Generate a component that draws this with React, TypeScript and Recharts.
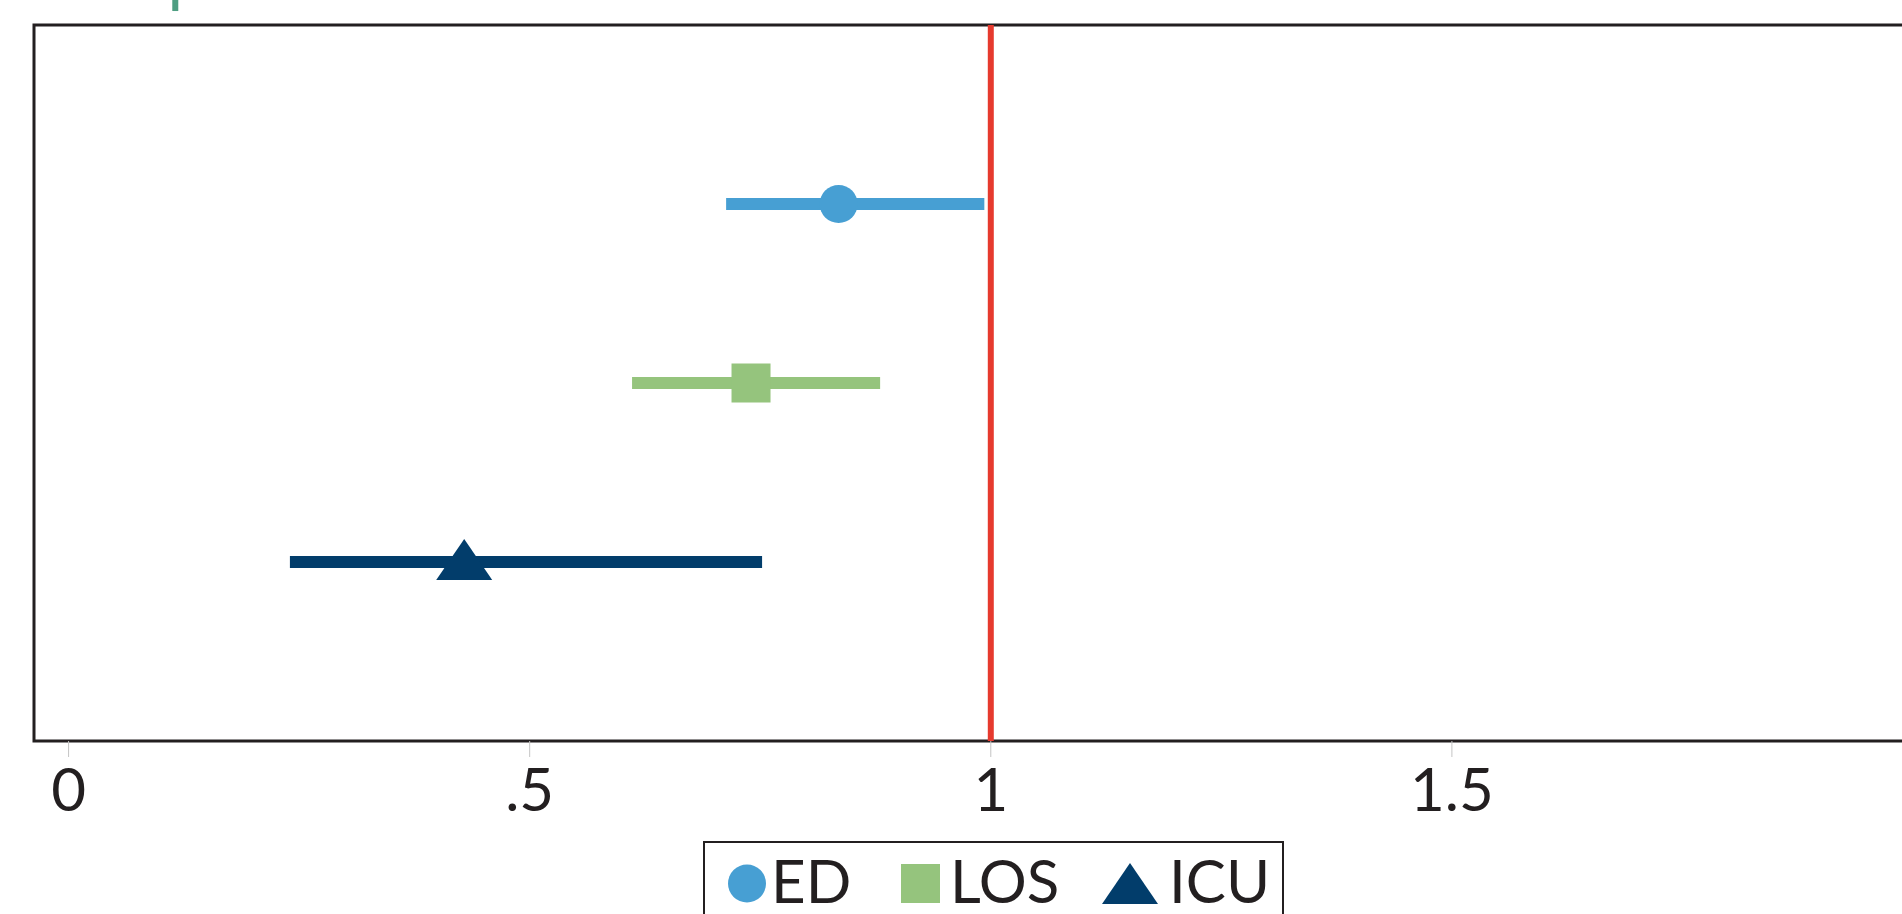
import React from "react";
import {
  ScatterChart,
  Scatter,
  XAxis,
  YAxis,
  ErrorBar,
  ReferenceLine,
  ReferenceArea,
} from "recharts";

const categories = ["ED", "LOS", "ICU"];
const estimates = [0.835, 0.74, 0.429];
const lowerCI = [0.713, 0.611, 0.24];
const upperCI = [0.993, 0.88, 0.752];
const rowPositions = [3, 2, 1];
const colors = ["#479fd3", "#95c47d", "#023d6b"];
const shapes = ["circle", "square", "triangle"];

const xTicks = [0, 0.5, 1, 1.5];
const xTickLabels = ["0", ".5", "1", "1.5"];

const X_DOMAIN: [number, number] = [-0.0375, 2];
const Y_DOMAIN: [number, number] = [0, 4];
const INK = "#231f20";
const FONT = "Lato, 'Open Sans', sans-serif";

const series = categories.map((name, i) => ({
  name,
  color: colors[i],
  shape: shapes[i],
  data: [
    {
      x: estimates[i],
      y: rowPositions[i],
      err: [estimates[i] - lowerCI[i], upperCI[i] - estimates[i]],
    },
  ],
}));

function Marker({ cx, cy, shape, color }: any) {
  if (cx == null || cy == null) return null;
  if (shape === "circle") return <circle cx={cx} cy={cy} r={19} fill={color} />;
  if (shape === "square")
    return <rect x={cx - 19.5} y={cy - 19.5} width={39} height={39} fill={color} />;
  return (
    <polygon
      points={`${cx},${cy - 23} ${cx + 28},${cy + 18} ${cx - 28},${cy + 18}`}
      fill={color}
    />
  );
}

function LegendIcon({ shape, color }: { shape: string; color: string }) {
  if (shape === "circle")
    return (
      <svg width={38} height={40} style={{ marginTop: 14 }}>
        <circle cx={19} cy={19.5} r={19} fill={color} />
      </svg>
    );
  if (shape === "square")
    return (
      <svg width={39} height={40} style={{ marginTop: 14 }}>
        <rect x={0} y={0} width={39} height={39} fill={color} />
      </svg>
    );
  return (
    <svg width={56} height={41} style={{ marginTop: 13 }}>
      <polygon points="28,0 56,41 0,41" fill={color} />
    </svg>
  );
}

const legendItemWidths = [173, 201, 170];
const legendGaps = [9, 14, 15];

function ChartLegend() {
  return (
    <div
      style={{
        position: "absolute",
        left: 703,
        top: 841,
        width: 581,
        height: 110,
        border: `2px solid ${INK}`,
        boxSizing: "border-box",
        display: "flex",
        alignItems: "flex-start",
        paddingLeft: 23,
        paddingTop: 7,
        fontFamily: FONT,
        fontSize: 60,
        lineHeight: "60px",
        color: INK,
        background: "#fff",
      }}
    >
      {series.map((s, i) => (
        <div
          key={s.name}
          style={{ display: "flex", alignItems: "flex-start", width: legendItemWidths[i] }}
        >
          <LegendIcon shape={s.shape} color={s.color} />
          <span style={{ marginLeft: legendGaps[i] - 4 }}>{s.name}</span>
        </div>
      ))}
    </div>
  );
}

export default function App() {
  return (
    <div
      style={{
        position: "fixed",
        left: 0,
        top: 0,
        width: 1902,
        height: 914,
        overflow: "hidden",
        background: "#fff",
      }}
    >
      <ScatterChart
        width={1923}
        height={914}
        margin={{ top: 25, right: 10, bottom: 114, left: 34 }}
      >
        <XAxis
          dataKey="x"
          type="number"
          domain={X_DOMAIN}
          ticks={xTicks}
          interval={0}
          allowDataOverflow
          tickFormatter={(v: number) => xTickLabels[xTicks.indexOf(v)] ?? String(v)}
          axisLine={false}
          tickLine={{ stroke: "#c4c4c4", strokeWidth: 1 }}
          tickSize={16}
          tickMargin={11}
          height={59}
          tick={{ fill: INK, fontSize: 60, fontFamily: FONT }}
        />
        <YAxis dataKey="y" type="number" domain={Y_DOMAIN} hide />
        <ReferenceArea
          x1={X_DOMAIN[0]}
          x2={X_DOMAIN[1]}
          y1={Y_DOMAIN[0]}
          y2={Y_DOMAIN[1]}
          fill="none"
          fillOpacity={0}
          stroke={INK}
          strokeWidth={3}
          ifOverflow="visible"
        />
        <ReferenceLine
          segment={[
            { x: 0.1157, y: 4.078 },
            { x: 0.1157, y: 4.3 },
          ]}
          stroke="#4e9e82"
          strokeWidth={6}
          ifOverflow="visible"
        />
        <ReferenceLine x={1} stroke="#e63a2e" strokeWidth={6} />
        {series.map((s) => (
          <Scatter
            key={s.name}
            name={s.name}
            data={s.data}
            fill={s.color}
            isAnimationActive={false}
            shape={(props: any) => <Marker {...props} shape={s.shape} color={s.color} />}
          >
            <ErrorBar
              dataKey="err"
              direction="x"
              width={0}
              stroke={s.color}
              strokeWidth={12}
              isAnimationActive={false}
            />
          </Scatter>
        ))}
      </ScatterChart>
      <ChartLegend />
    </div>
  );
}
